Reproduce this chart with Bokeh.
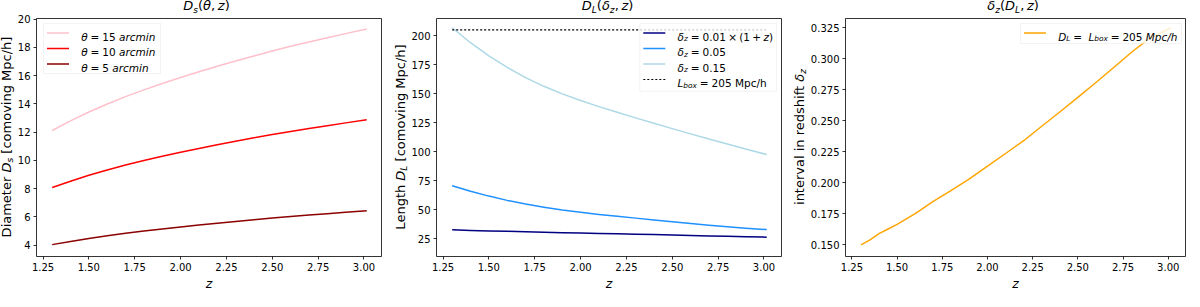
import math
from bokeh.plotting import figure
from bokeh.models import Range1d, FixedTicker, NumeralTickFormatter, Label, BoxAnnotation, Arrow, Div
from bokeh.layouts import row, column
from bokeh.embed import file_html
from bokeh.resources import INLINE

# ---------------- data ----------------
z_ds = [1.30, 1.40, 1.50, 1.60, 1.70, 1.80, 1.90, 2.00, 2.10, 2.20,
        2.30, 2.40, 2.50, 2.60, 2.70, 2.80, 2.90, 3.015]
ds_theta15 = [12.12, 12.80, 13.43, 14.00, 14.52, 15.00, 15.45, 15.87, 16.28, 16.67,
              17.04, 17.40, 17.75, 18.08, 18.39, 18.69, 18.98, 19.31]
ds_theta10 = [8.08, 8.53, 8.95, 9.33, 9.68, 10.00, 10.30, 10.58, 10.85, 11.11,
              11.36, 11.60, 11.83, 12.05, 12.26, 12.46, 12.66, 12.88]
ds_theta5 = [4.04, 4.27, 4.48, 4.67, 4.84, 5.00, 5.15, 5.29, 5.43, 5.56,
             5.68, 5.80, 5.92, 6.03, 6.13, 6.23, 6.33, 6.44]

z_dl = [1.30, 1.40, 1.50, 1.60, 1.70, 1.80, 1.90, 2.00, 2.10, 2.20,
        2.30, 2.40, 2.50, 2.60, 2.70, 2.80, 2.90, 3.015]
dl_dz_001 = [32.6, 32.0, 31.6, 31.2, 30.8, 30.4, 30.0, 29.7, 29.4, 29.1,
             28.7, 28.4, 28.0, 27.6, 27.2, 26.9, 26.6, 26.2]
dl_dz_005 = [70.6, 65.8, 61.6, 57.9, 54.7, 52.0, 49.6, 47.6, 45.8, 44.2,
             42.6, 41.0, 39.45, 37.95, 36.5, 35.2, 33.9, 32.7]
dl_dz_015 = [206.8, 193.9, 182.6, 172.6, 163.8, 156.3, 149.8, 144.0, 138.8, 133.9,
             129.1, 124.4, 119.8, 115.3, 110.9, 106.6, 102.2, 97.4]
z_lbox = [1.30, 3.015]
L_box = [205.0, 205.0]

z_dz = [1.30, 1.35, 1.40, 1.45, 1.50, 1.60, 1.70, 1.80, 1.90, 2.00,
        2.10, 2.20, 2.30, 2.40, 2.50, 2.60, 2.70, 2.80, 2.90, 3.015]
dz_lbox = [0.1500, 0.1540, 0.1590, 0.1628, 0.1665, 0.1752, 0.1850, 0.1940, 0.2032, 0.2135,
           0.2237, 0.2340, 0.2457, 0.2572, 0.2690, 0.2810, 0.2933, 0.3058, 0.3170, 0.3250]

x_ticks = [1.25, 1.50, 1.75, 2.00, 2.25, 2.50, 2.75, 3.00]
y1_ticks = [4, 6, 8, 10, 12, 14, 16, 18, 20]
y2_ticks = [25, 50, 75, 100, 125, 150, 175, 200]
y3_ticks = [0.150, 0.175, 0.200, 0.225, 0.250, 0.275, 0.300, 0.325]

# ---------------- styling helpers ----------------
FONT = "DejaVu Sans"
FH = 238          # frame height
BT = 5            # border top of figures
BB = 34           # border bottom of figures
TITLE_H = 13      # height of title strip
YL_W = 14         # width of y-label strip
DOT = "2 2"
EM = {' ': .318, '(': .390, ')': .390, ',': .318, '.': .318, '/': .337, '=': .838, '+': .838,
      '×': .838, '[': .390, ']': .390, 'D': .770, 'L': .557, 'M': .863, 'a': .613, 'b': .635,
      'c': .550, 'd': .635, 'e': .615, 'f': .352, 'g': .635, 'h': .634, 'i': .278, 'l': .278,
      'm': .974, 'n': .634, 'o': .612, 'p': .635, 'r': .411, 's': .521, 't': .392, 'v': .592,
      'x': .592, 'z': .525, 'θ': .612, 'δ': .612}
for d in "0123456789":
    EM[d] = .636


def S(t): return (t, "n")
def I(t): return (t, "i")
def SI(t): return (t, "si")
def G(e): return (None, e)


def X(p, fw, px):
    xr = p.x_range
    return xr.start + px / fw * (xr.end - xr.start)


def Y(p, py):
    yr = p.y_range
    return yr.end - py / FH * (yr.end - yr.start)


def rich(p, fw, x0, y0, segs, size):
    cur = 0.0
    for t, st in segs:
        if t is None:
            cur += st * size
            continue
        sub = st.startswith("s")
        s = size * 0.7 if sub else size
        drop = size * 0.2 if sub else 0.0
        p.add_layout(Label(x=X(p, fw, x0 + cur), y=Y(p, y0 + drop), text=t, text_font=FONT,
                           text_font_size=f"{s:.2f}px",
                           text_font_style="italic" if st.endswith("i") else "normal",
                           text_color="black", text_baseline="alphabetic", text_align="left"))
        cur += sum(EM.get(c, .6) for c in t) * s


def legend(p, fw, left, top, w, h, rows, size=10.5):
    p.add_layout(BoxAnnotation(left=X(p, fw, left), right=X(p, fw, left + w),
                               top=Y(p, top), bottom=Y(p, top + h),
                               fill_color="white", fill_alpha=0.8,
                               line_color="#cccccc", line_width=0.8))
    for i, (color, dash, lw, segs) in enumerate(rows):
        cy = top + 9.5 + 15.5 * i
        p.add_layout(Arrow(end=None, x_start=X(p, fw, left + 3.5), x_end=X(p, fw, left + 25.5),
                           y_start=Y(p, cy), y_end=Y(p, cy), line_color=color,
                           line_width=lw, line_dash=dash))
        rich(p, fw, left + 37.7, cy + 0.36 * size, segs, size)


def make_fig(fw, ml, mr, yr, yticks, yfmt):
    p = figure(frame_width=fw, frame_height=FH, x_range=Range1d(1.2145, 3.0955), y_range=yr,
               output_backend="svg", toolbar_location=None,
               min_border_left=ml, min_border_right=mr, min_border_top=BT, min_border_bottom=BB,
               background_fill_color="white", border_fill_color="white", margin=0)
    p.grid.visible = False
    p.outline_line_color = "black"
    p.outline_line_width = 0.8
    p.outline_line_alpha = 1.0
    for ax in (p.xaxis[0], p.yaxis[0]):
        ax.axis_line_color = None
        ax.major_tick_out = 3
        ax.major_tick_in = 0
        ax.major_tick_line_width = 0.8
        ax.major_tick_line_color = "black"
        ax.minor_tick_line_color = None
        ax.major_label_text_font = FONT
        ax.major_label_text_font_size = "10px"
        ax.major_label_text_color = "black"
        ax.major_label_standoff = 3
    p.xaxis[0].ticker = FixedTicker(ticks=x_ticks)
    p.xaxis[0].formatter = NumeralTickFormatter(format="0.00")
    p.xaxis[0].axis_label = "z"
    p.xaxis[0].axis_label_text_font = FONT
    p.xaxis[0].axis_label_text_font_style = "italic"
    p.xaxis[0].axis_label_text_font_size = "12.5px"
    p.xaxis[0].axis_label_text_color = "black"
    p.xaxis[0].axis_label_standoff = 2
    p.yaxis[0].ticker = FixedTicker(ticks=yticks)
    p.yaxis[0].formatter = NumeralTickFormatter(format=yfmt)
    return p


def sub(t):
    return (f'<i style="font-size:70%;vertical-align:-0.28em;line-height:0;">{t}</i>')


def panel(p, fw, ml, mr, title_html, ylab_html):
    total_w = YL_W + ml + fw + mr
    fig_h = BT + FH + BB
    cx = YL_W + ml + fw / 2
    tdiv = Div(width=total_w, height=TITLE_H, margin=0, text=(
        f'<div style="position:relative;width:{total_w}px;height:{TITLE_H}px;">'
        f'<div style="position:absolute;left:{cx}px;top:-1px;transform:translateX(-50%);'
        f'white-space:nowrap;font-family:\'DejaVu Sans\';font-size:13px;line-height:14px;'
        f'color:black;">{title_html}</div></div>'))
    cy = BT + FH / 2
    ydiv = Div(width=YL_W, height=fig_h, margin=0, text=(
        f'<div style="position:relative;width:{YL_W}px;height:{fig_h}px;">'
        f'<div style="position:absolute;left:7px;top:{cy}px;'
        f'transform:translate(-50%,-50%) rotate(180deg);writing-mode:vertical-rl;'
        f'white-space:nowrap;font-family:\'DejaVu Sans\';font-size:13px;line-height:14px;'
        f'color:black;">{ylab_html}</div></div>'))
    return column(tdiv, row(ydiv, p, spacing=0), spacing=0)


# ---------------- panel 1 ----------------
W1, ML1, MR1 = 345, 20, 13
p1 = make_fig(W1, ML1, MR1, Range1d(3.2, 20.05), y1_ticks, "0")
p1.line(z_ds, ds_theta15, line_color="#FFC0CB", line_width=1.5, line_join="round")
p1.line(z_ds, ds_theta10, line_color="#FF0000", line_width=1.5, line_join="round")
p1.line(z_ds, ds_theta5, line_color="#8B0000", line_width=1.5, line_join="round")
legend(p1, W1, 7, 5, 117, 50, [
    ("#FFC0CB", "solid", 1.5, [I("θ"), G(.28), S("="), G(.28), S("15"), G(.318), I("arcmin")]),
    ("#FF0000", "solid", 1.5, [I("θ"), G(.28), S("="), G(.28), S("10"), G(.318), I("arcmin")]),
    ("#8B0000", "solid", 1.5, [I("θ"), G(.28), S("="), G(.28), S("5"), G(.318), I("arcmin")]),
])
col1 = panel(p1, W1, ML1, MR1,
             f'<i>D</i>{sub("s")}(<i>θ</i>,&thinsp;<i>z</i>)',
             f'Diameter <i>D</i>{sub("s")} [comoving Mpc/h]')

# ---------------- panel 2 ----------------
W2, ML2, MR2 = 345, 27, 12
p2 = make_fig(W2, ML2, MR2, Range1d(9.5, 214.8), y2_ticks, "0")
p2.line(z_dl, dl_dz_001, line_color="#000080", line_width=1.5, line_join="round")
p2.line(z_dl, dl_dz_005, line_color="#1E90FF", line_width=1.5, line_join="round")
p2.line(z_dl, dl_dz_015, line_color="#ADD8E6", line_width=1.5, line_join="round")
p2.line(z_lbox, L_box, line_color="black", line_width=1.2, line_dash=DOT)
legend(p2, W2, W2 - 5 - 136.7, 5, 136.7, 67.7, [
    ("#000080", "solid", 1.5, [I("δ"), SI("z"), G(.28), S("="), G(.28), S("0.01"), G(.22), S("×"),
                               G(.22), S("(1"), G(.22), S("+"), G(.22), I("z"), S(")")]),
    ("#1E90FF", "solid", 1.5, [I("δ"), SI("z"), G(.28), S("="), G(.28), S("0.05")]),
    ("#ADD8E6", "solid", 1.5, [I("δ"), SI("z"), G(.28), S("="), G(.28), S("0.15")]),
    ("black", DOT, 1.2, [I("L"), SI("box"), G(.28), S("="), G(.28), S("205 Mpc/h")]),
])
col2 = panel(p2, W2, ML2, MR2,
             f'<i>D</i>{sub("L")}(<i>δ</i>{sub("z")},&thinsp;<i>z</i>)',
             f'Length <i>D</i>{sub("L")} [comoving Mpc/h]')

# ---------------- panel 3 ----------------
W3, ML3, MR3 = 340, 36, 1
p3 = make_fig(W3, ML3, MR3, Range1d(0.1406, 0.3326), y3_ticks, "0.000")
p3.line(z_dz, dz_lbox, line_color="#FFA500", line_width=1.5, line_join="round")
legend(p3, W3, W3 - 4 - 161, 5, 161, 20, [
    ("#FFA500", "solid", 1.5, [I("D"), SI("L"), G(.28), S("="), G(.28 + .318), I("L"), SI("box"),
                               G(.28), S("="), G(.28), S("205"), G(.318), I("Mpc/h")]),
])
col3 = panel(p3, W3, ML3, MR3,
             f'<i>δ</i>{sub("z")}(<i>D</i>{sub("L")},&thinsp;<i>z</i>)',
             f'interval in redshift <i>δ</i>{sub("z")}')

layout = row(col1, col2, col3, spacing=0)
open("out.html", "w").write(file_html(layout, INLINE))
